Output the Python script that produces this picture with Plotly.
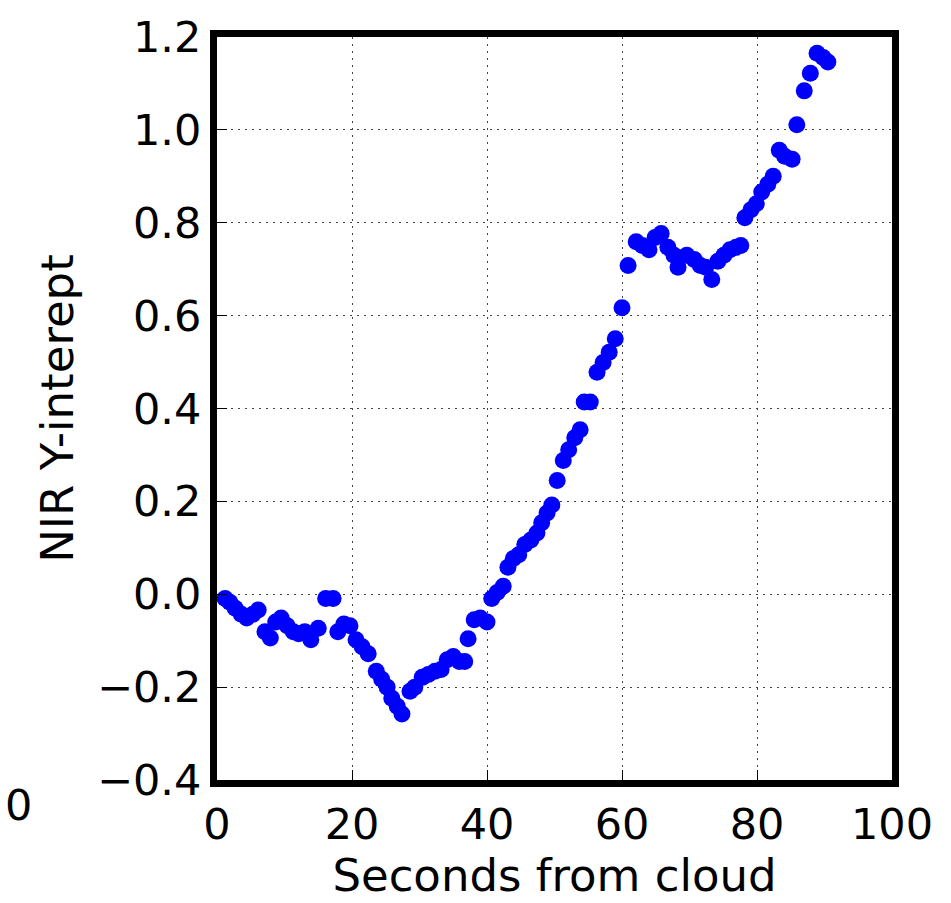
import plotly.graph_objects as go

seconds = [1.2, 1.9, 2.7, 3.6, 4.4, 5.3, 6.1, 7.1, 7.9, 8.7, 9.5, 10.4, 11.3, 12.1, 13.0, 13.9,
           15.0, 16.1, 17.2, 17.9, 18.8, 19.7, 20.6, 21.5, 22.4, 23.6, 24.4, 25.2, 25.9, 26.7,
           27.4, 28.6, 29.3, 30.4, 31.3, 32.3, 33.2, 34.1, 35.0, 35.9, 36.7, 37.2, 38.1, 39.0,
           40.0, 40.7, 41.5, 42.4, 43.1, 43.9, 44.7, 45.6, 46.5, 47.4, 48.1, 48.9, 49.6, 50.4,
           51.3, 52.1, 53.0, 53.8, 54.4, 55.3, 56.3, 57.2, 58.1, 59.0, 60.0, 60.9, 62.1, 63.0,
           64.0, 64.9, 65.8, 66.8, 67.7, 68.3, 69.6, 70.7, 71.6, 72.4, 73.3, 74.2, 75.1, 76.0,
           76.9, 77.6, 78.2, 79.1, 79.9, 80.7, 81.6, 82.4, 83.3, 84.1, 85.2, 85.9, 87.0, 87.9,
           88.9, 89.8, 90.5]
intercept = [-0.009, -0.017, -0.030, -0.043, -0.051, -0.043, -0.034, -0.081, -0.094, -0.060,
             -0.051, -0.068, -0.081, -0.085, -0.081, -0.098, -0.073, -0.009, -0.009, -0.081,
             -0.064, -0.068, -0.098, -0.113, -0.128, -0.166, -0.183, -0.200, -0.224, -0.241,
             -0.258, -0.209, -0.200, -0.179, -0.173, -0.166, -0.162, -0.141, -0.134, -0.145,
             -0.145, -0.096, -0.055, -0.051, -0.060, -0.009, 0.004, 0.017, 0.058, 0.077,
             0.085, 0.107, 0.117, 0.132, 0.154, 0.175, 0.192, 0.245, 0.288, 0.311,
             0.337, 0.354, 0.414, 0.414, 0.478, 0.499, 0.521, 0.550, 0.617, 0.708,
             0.759, 0.751, 0.742, 0.768, 0.777, 0.747, 0.730, 0.704, 0.730, 0.721,
             0.708, 0.704, 0.678, 0.717, 0.730, 0.742, 0.747, 0.751, 0.811, 0.828,
             0.841, 0.866, 0.883, 0.900, 0.956, 0.943, 0.937, 1.011, 1.084, 1.122,
             1.165, 1.156, 1.146]

x_ticks = [0, 20, 40, 60, 80, 100]
y_ticks = [-0.4, -0.2, 0.0, 0.2, 0.4, 0.6, 0.8, 1.0, 1.2]
y_tick_text = ["\u22120.4", "\u22120.2", "0.0", "0.2", "0.4", "0.6", "0.8", "1.0", "1.2"]

FONT = "DejaVu Sans"

fig = go.Figure()
fig.add_trace(go.Scatter(
    x=seconds, y=intercept, mode="markers",
    marker=dict(color="#0000ff", size=17, line=dict(width=0)),
    cliponaxis=True, showlegend=False,
))

axis_common = dict(
    showline=True, linecolor="black", linewidth=7, mirror=True,
    showgrid=True, gridcolor="#444444", gridwidth=1, griddash="2px,5px",
    zeroline=False, ticks="inside", ticklen=10, tickwidth=1, tickcolor="black",
    tickfont=dict(family=FONT, size=43, color="black"),
)

fig.update_xaxes(
    range=[0, 100], tickvals=x_ticks, ticktext=[str(v) for v in x_ticks],
    title=dict(text="Seconds from cloud", font=dict(family=FONT, size=45, color="black"), standoff=6),
    **axis_common,
)
fig.update_yaxes(
    range=[-0.4, 1.2], tickvals=y_ticks, ticktext=y_tick_text,
    title=dict(text="NIR Y-interept", font=dict(family=FONT, size=45, color="black"), standoff=12),
    **axis_common,
)

fig.add_annotation(
    text="0", xref="paper", yref="paper", x=-0.317, y=-0.033,
    showarrow=False, font=dict(family=FONT, size=43, color="black"),
    xanchor="left", yanchor="middle",
)

fig.update_layout(
    width=951, height=903,
    margin=dict(l=217, r=59, t=30, b=123),
    paper_bgcolor="white", plot_bgcolor="white",
    font=dict(family=FONT, color="black"),
)

fig.write_html("out.html")
